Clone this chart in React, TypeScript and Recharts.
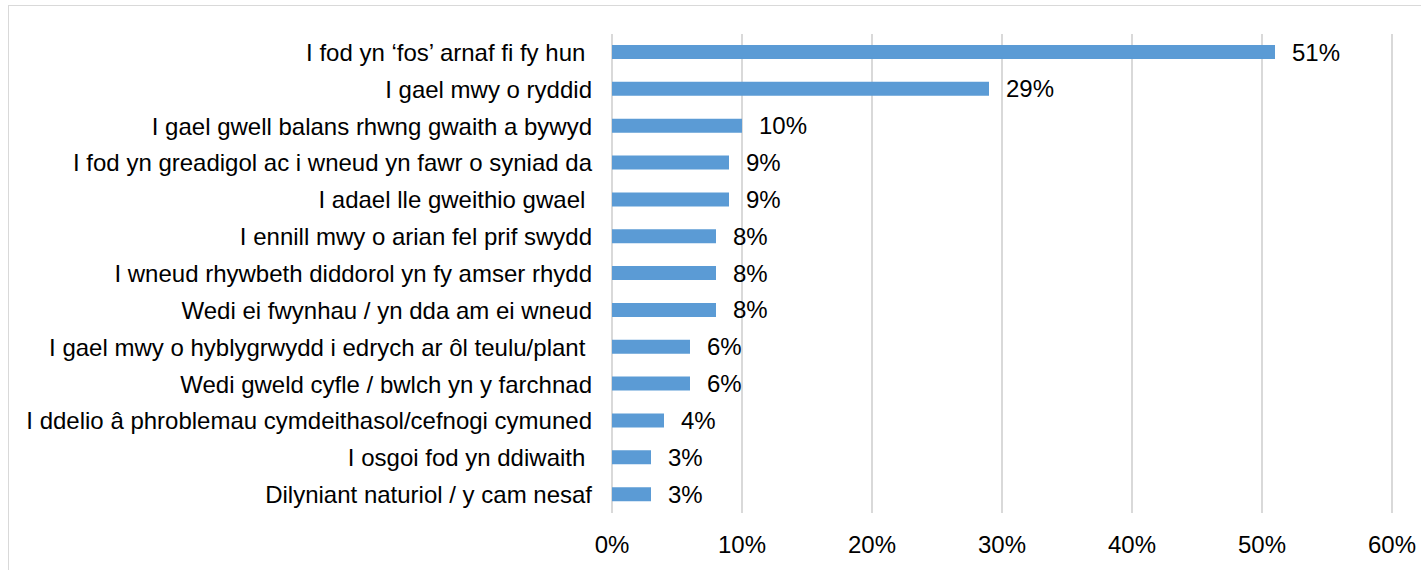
import { BarChart, Bar, XAxis, YAxis, CartesianGrid, LabelList } from 'recharts'

const REASONS = [
  'I fod yn ‘fos’ arnaf fi fy hun ',
  'I gael mwy o ryddid',
  'I gael gwell balans rhwng gwaith a bywyd',
  'I fod yn greadigol ac i wneud yn fawr o syniad da',
  'I adael lle gweithio gwael ',
  'I ennill mwy o arian fel prif swydd',
  'I wneud rhywbeth diddorol yn fy amser rhydd',
  'Wedi ei fwynhau / yn dda am ei wneud',
  'I gael mwy o hyblygrwydd i edrych ar ôl teulu/plant ',
  'Wedi gweld cyfle / bwlch yn y farchnad',
  'I ddelio â phroblemau cymdeithasol/cefnogi cymuned',
  'I osgoi fod yn ddiwaith ',
  'Dilyniant naturiol / y cam nesaf',
]

const SHARES = [51, 29, 10, 9, 9, 8, 8, 8, 6, 6, 4, 3, 3]

const X_TICKS = [0, 10, 20, 30, 40, 50, 60]

const FONT = '"Liberation Sans", Arial, sans-serif'

const data = REASONS.map((r, i) => ({ reason: r, share: SHARES[i] }))

// keep trailing spaces in the category names, like the source
function ReasonTick({ x, y, payload }: any) {
  return (
    <text
      x={x}
      y={y}
      textAnchor="end"
      dominantBaseline="central"
      fill="#000"
      fontSize={24}
      fontFamily={FONT}
      style={{ whiteSpace: 'pre' }}
    >
      {payload.value}
    </text>
  )
}

export default function App() {
  return (
    <div style={{ position: 'absolute', left: 0, top: 0, width: 1421, height: 570, overflow: 'hidden', background: '#fff' }}>
      <div
        style={{
          position: 'absolute',
          left: 8,
          top: 5,
          width: 1500,
          height: 700,
          border: '1px solid #d9d9d9',
        }}
      />
      <div style={{ position: 'absolute', left: 0, top: 0 }}>
        <BarChart
          width={1421}
          height={570}
          data={data}
          layout="vertical"
          margin={{ top: 34, right: 29, left: 0, bottom: 0 }}
          barSize={14}
        >
          <CartesianGrid horizontal={false} stroke="#d9d9d9" strokeWidth={2} />
          <XAxis
            type="number"
            domain={[0, 60]}
            ticks={X_TICKS}
            tickFormatter={(v) => `${v}%`}
            axisLine={false}
            tickLine={false}
            tickSize={0}
            tickMargin={23}
            height={57}
            tick={{ fill: '#000', fontSize: 24, fontFamily: FONT }}
          />
          <YAxis
            type="category"
            dataKey="reason"
            width={612}
            axisLine={false}
            tickLine={false}
            tickSize={0}
            tickMargin={20}
            interval={0}
            tick={<ReasonTick />}
          />
          <Bar dataKey="share" fill="#5b9bd5" isAnimationActive={false}>
            <LabelList
              dataKey="share"
              position="right"
              offset={17}
              formatter={(v: any) => `${v}%`}
              fill="#000"
              fontSize={24}
              fontFamily={FONT}
            />
          </Bar>
        </BarChart>
      </div>
    </div>
  )
}
